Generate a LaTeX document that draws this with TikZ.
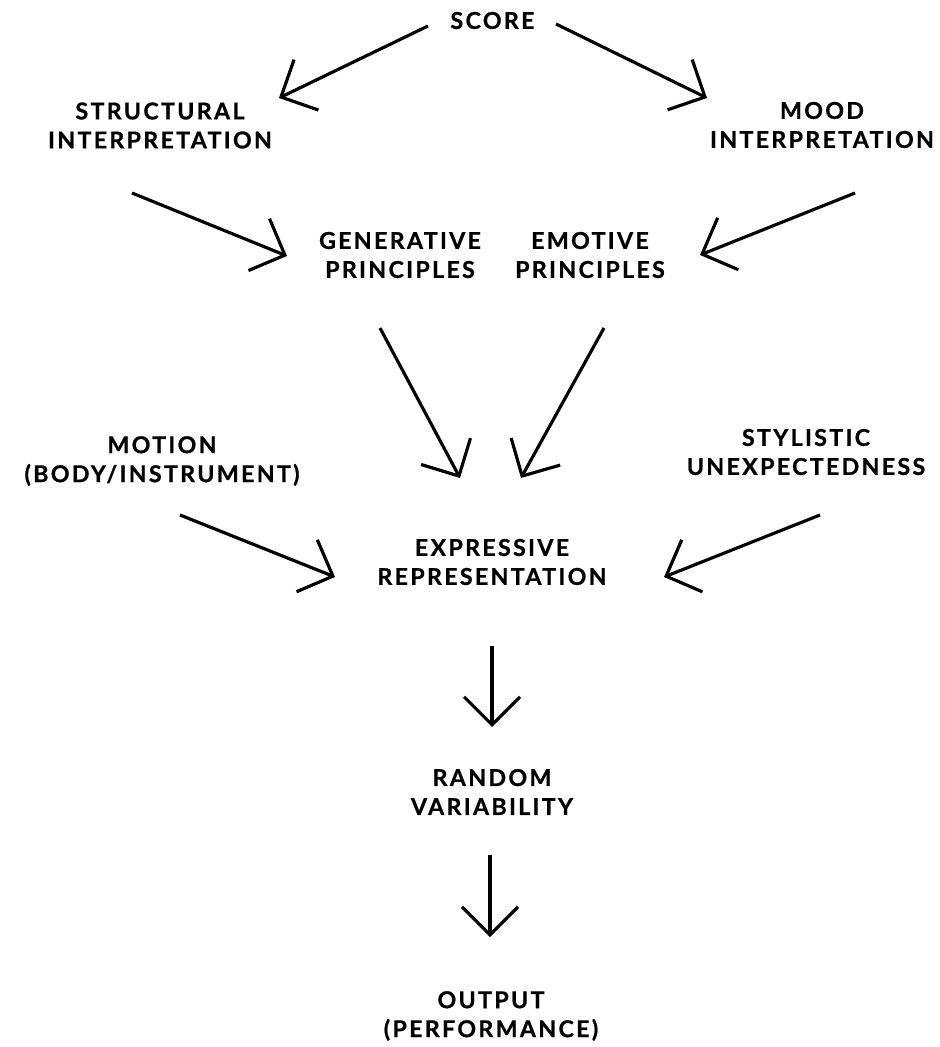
\documentclass[tikz,border=0pt]{standalone}
\usepackage{fontspec}
\setmainfont{Lato}[LetterSpace=10, BoldFeatures={FakeBold=0.8}]
\usetikzlibrary{arrows.meta}

\tikzset{
  lbl/.style={font=\fontsize{13.2}{16.5}\selectfont\bfseries, align=center, inner sep=0pt},
  arr/.style={line width=1.8pt, -{Straight Barb[length=5.6mm,width=11.2mm]}},
}

\begin{document}
\begin{tikzpicture}[x=0.02cm,y=-0.02cm]
    
    \useasboundingbox[fill=white] (0,0) rectangle (939,1047);

    % the labels
    \node[lbl] (score)  at (492.5,20.5) {SCORE};
    \node[lbl] (struct) at (160,125.5)  {STRUCTURAL\\INTERPRETATION};
    \node[lbl] (mood)   at (822,125)    {MOOD\\INTERPRETATION};
    \node[lbl] (gen)    at (400,255)    {GENERATIVE\\PRINCIPLES};
    \node[lbl] (emo)    at (590,255)    {EMOTIVE\\PRINCIPLES};
    \node[lbl] (motion) at (162,461)    {MOTION\\(BODY/INSTRUMENT)};
    \node[lbl] (styl)   at (806,452)    {STYLISTIC\\UNEXPECTEDNESS};
    \node[lbl] (expr)   at (492,562)    {EXPRESSIVE\\REPRESENTATION};
    \node[lbl] (random) at (492,792)    {RANDOM\\VARIABILITY};
    \node[lbl] (output) at (491,1016)   {OUTPUT\\(PERFORMANCE)};

    % the arrows
    \draw[arr] ([shift={(-64.5,5.5)}]score.center) -- ([shift={(119,-27.5)}]struct.center);
    \draw[arr] ([shift={(63.5,3.5)}]score.center) -- ([shift={(-115,-27)}]mood.center);
    \draw[arr] ([shift={(-28,67.5)}]struct.center) -- ([shift={(-113,1)}]gen.center);
    \draw[arr] ([shift={(33,68)}]mood.center) -- ([shift={(110,0)}]emo.center);
    \draw[arr] ([shift={(-20,73)}]gen.center) -- ([shift={(-32,-84)}]expr.center);
    \draw[arr] ([shift={(14,73)}]emo.center) -- ([shift={(29,-84)}]expr.center);
    \draw[arr] ([shift={(18,54)}]motion.center) -- ([shift={(-157,15)}]expr.center);
    \draw[arr] ([shift={(14,63)}]styl.center) -- ([shift={(172,15)}]expr.center);
    \draw[arr] ([shift={(0,84)}]expr.center) -- ([shift={(0,-65)}]random.center);
    \draw[arr] ([shift={(-2,63)}]random.center) -- ([shift={(-1,-79)}]output.center);

\end{tikzpicture}
\end{document}
